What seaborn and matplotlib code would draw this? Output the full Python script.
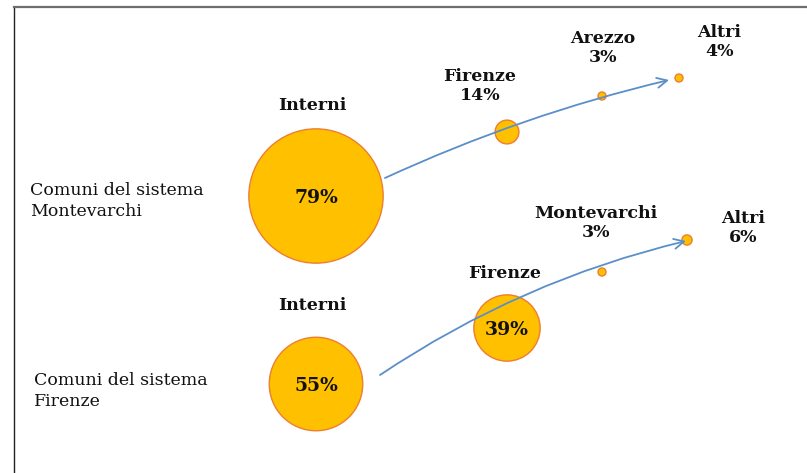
import numpy as np
import pandas as pd
import matplotlib
matplotlib.use("Agg")
import matplotlib.pyplot as plt
import seaborn as sns

# --- dati ---
row_labels = ["Comuni del sistema\nMontevarchi", "Comuni del sistema\nFirenze"]
mv_dest = ["Interni", "Firenze", "Arezzo", "Altri"]
mv_pct = [79, 14, 3, 4]
fi_dest = ["Interni", "Firenze", "Montevarchi", "Altri"]
fi_pct = [55, 39, 3, 6]

# --- layout (coordinate in pixel dell'immagine) ---
mv_x = [316, 507, 602, 679]
mv_y = [196, 132, 96, 78]
fi_x = [316, 507, 602, 687]
fi_y = [384, 328, 272, 240]
mv_lab = [(312, 105), (480, 86), (603, 48), (719, 42)]
fi_lab = [(312, 305), (505, 273), (596, 223), (743, 228)]
row_lab_pos = [(30, 201), (34, 391)]
mv_arrow = [(385, 178), (669, 80)]
fi_arrow = [(380, 375), (686, 241)]

DPI = 100
FILL = "#FFC000"
EDGE = "#ED7D31"
BLUE = "#5B8FC9"

sns.set_theme(style="white")
plt.rcParams["font.family"] = ["DejaVu Serif"]

fig = plt.figure(figsize=(8.07, 4.73), dpi=DPI)
ax = fig.add_axes([14 / 807, 0, 1 - 14 / 807, (473 - 7) / 473])
ax.set_xlim(14, 807)
ax.set_ylim(473, 7)
ax.set_xticks([])
ax.set_yticks([])
for side in ["right", "bottom"]:
    ax.spines[side].set_visible(False)
ax.spines["top"].set_color("#6e6e6e")
ax.spines["top"].set_linewidth(1.6)
ax.spines["left"].set_color("#222222")
ax.spines["left"].set_linewidth(1.0)


def marker_area(pct):
    # raggio ~ proporzionale alla percentuale (in pixel)
    r = np.maximum(0.85 * np.asarray(pct, dtype=float), 4.0)
    return (2 * r * 72 / DPI) ** 2


rows = [
    (mv_dest, mv_pct, mv_x, mv_y, mv_lab, mv_arrow, -0.05),
    (fi_dest, fi_pct, fi_x, fi_y, fi_lab, fi_arrow, -0.09),
]

for i, (dest, pct, xs, ys, labs, arr, rad) in enumerate(rows):
    df = pd.DataFrame({"x": xs, "y": ys, "pct": pct, "dest": dest})
    sns.scatterplot(data=df, x="x", y="y", s=marker_area(df["pct"]),
                    color=FILL, edgecolor=EDGE, linewidth=1.0,
                    legend=False, ax=ax, zorder=2)
    ax.annotate("", xy=arr[1], xytext=arr[0],
                arrowprops=dict(arrowstyle="->,head_length=0.6,head_width=0.3",
                                color=BLUE, lw=1.3,
                                connectionstyle=f"arc3,rad={rad}",
                                shrinkA=0, shrinkB=0),
                zorder=3)
    for d, p, x, y, (lx, ly) in zip(dest, pct, xs, ys, labs):
        if p >= 39 or d == "Interni":
            ax.text(lx, ly, d, ha="center", va="center", fontsize=12.5,
                    fontweight="bold", color="#111111", zorder=4)
            ax.text(x, y + 2, f"{p}%", ha="center", va="center", fontsize=13.5,
                    fontweight="bold", color="#111111", zorder=4)
        else:
            ax.text(lx, ly, f"{d}\n{p}%", ha="center", va="center", fontsize=12.5,
                    fontweight="bold", color="#111111", linespacing=1.2, zorder=4)
    ax.text(row_lab_pos[i][0], row_lab_pos[i][1], row_labels[i], ha="left",
            va="center", fontsize=12.5, color="#111111", linespacing=1.25)

ax.set_xlabel("")
ax.set_ylabel("")
fig.savefig("out.png", dpi=DPI)
